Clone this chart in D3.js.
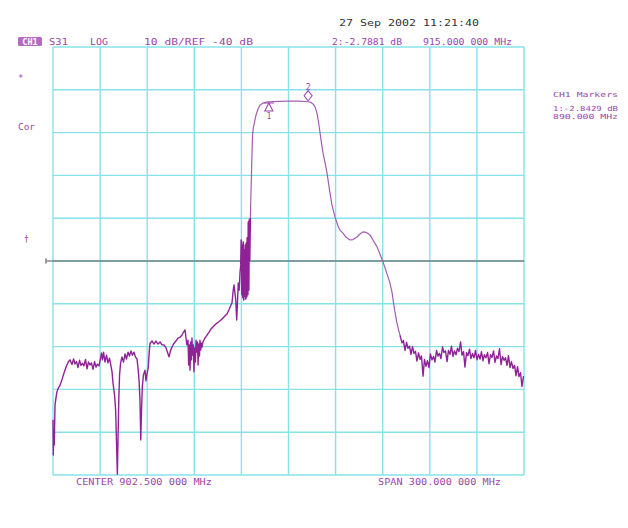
<!DOCTYPE html>
<html>
<head>
<meta charset="utf-8">
<script src="https://cdn.jsdelivr.net/npm/d3@7"></script>
<style>
  body { margin: 0; background: #fff; }
  text { font-family: "DejaVu Sans Mono", monospace; }
</style>
</head>
<body>
<div class="vnaContainer"></div>
<script>
// sweep setup
var startMHz = 752.5, stopMHz = 1052.5;
var topDb = 10, bottomDb = -90, refDb = -40;
var divisions = [0,1,2,3,4,5,6,7,8,9,10];

var lowerStop = [
  [752.5,-77.1],[752.7,-85.3],[752.9,-79.5],[753.3,-83.0],[753.8,-73.6],[754.4,-72.0],[755.0,-70.6],
  [755.9,-69.7],[757.0,-69.0],[758.0,-68.0],[758.9,-66.9],[760.1,-65.5],[761.1,-64.5],[762.2,-63.6],
  [763.3,-63.1],[764.6,-64.2],[765.6,-62.9],[766.5,-64.0],[767.5,-63.5],[768.4,-64.9],[769.4,-63.2],
  [770.3,-64.4],[771.3,-63.9],[772.2,-64.5],[773.2,-63.0],[774.2,-65.2],[775.1,-63.6],[776.1,-64.3],
  [777.0,-63.8],[778.0,-65.3],[779.0,-63.5],[779.9,-64.8],[780.8,-64.1],[781.8,-64.5],[782.8,-62.7],
  [783.4,-61.5],[784.0,-63.1],[784.7,-61.3],[785.6,-63.6],[786.6,-62.0],[787.5,-63.8],[788.5,-62.7],
  [789.4,-64.5],[790.1,-65.9],[790.7,-68.5],[791.7,-71.3],[792.4,-74.8],[792.9,-81.8],[793.5,-89.8],
  [793.9,-81.8],[794.4,-72.5],[794.9,-66.6],[795.5,-64.0],[796.4,-62.4],[797.4,-63.6],[798.4,-61.7],
  [799.3,-62.9],[800.3,-61.3],[801.2,-62.2],[802.2,-61.0],[803.1,-62.0],[804.1,-61.3],[805.0,-62.4],
  [806.0,-62.9],[806.6,-64.8],[807.3,-67.8],[807.9,-72.5],[808.4,-81.8],[808.9,-74.8],[809.4,-69.4],
  [810.1,-66.6],[811.1,-65.5],[811.7,-68.0],[812.4,-66.4],[813.2,-64.8],[813.8,-61.3],[814.3,-59.2],
  [815.6,-58.7],[816.8,-59.4],[818.1,-58.7],[819.4,-59.4],[820.7,-58.9],[821.9,-59.6],[823.2,-59.6],
  [824.5,-60.3],[825.4,-61.3],[826.4,-62.4],[827.3,-61.0],[828.3,-60.1],[829.6,-59.2],[830.8,-58.7],
  [832.1,-58.0],[833.4,-57.8],[834.7,-57.3],[835.6,-56.6],[836.6,-56.1],[837.2,-58.0],[837.8,-59.6],
  [838.5,-58.5],[838.9,-64.3],[839.4,-59.6],[839.8,-65.5],[840.2,-58.9],[840.7,-63.1],[841.0,-58.0],
  [841.5,-62.0],[841.9,-59.6],[842.3,-65.9],[842.7,-60.3],[843.2,-63.6],[843.6,-58.5],[844.0,-61.3],
  [844.5,-58.9],[844.9,-64.3],[845.3,-59.4],[845.8,-62.2],[846.1,-58.5],[846.6,-60.8],[847.0,-59.2],
  [847.4,-60.1],[848.0,-58.9],[849.3,-58.0],[850.6,-57.3],[851.9,-56.6],[853.1,-55.9],[854.4,-55.4],
  [855.7,-54.9],[857.0,-54.5],[858.2,-54.2],[859.5,-53.8],[860.8,-53.3],[862.1,-52.8],[863.3,-52.4],
  [864.6,-51.4],[865.6,-50.5],[866.5,-49.8],[867.3,-46.8],[867.8,-45.6],[868.4,-47.5],[868.9,-49.1],
  [869.5,-53.8],[870.0,-49.8],[870.5,-45.1],[871.1,-46.8],[871.6,-42.8],[872.1,-40.9]
];
var lowerSkirt = [
  [872.1,-40.9],[872.4,-35.1],[872.8,-47.9],[873.1,-36.3],[873.4,-48.6],[873.7,-35.6],[874.0,-49.1],
  [874.3,-37.4],[874.7,-48.2],[875.0,-36.3],[875.3,-48.9],[875.6,-35.8],[875.9,-48.4],[876.2,-34.6],
  [876.6,-47.9],[876.9,-30.9],[877.2,-46.8],[877.5,-30.4],[877.8,-39.8],[878.2,-29.9]
];
var passband = [
  [878.2,-29.9],[878.5,-25.7],[878.9,-19.9],[879.3,-14.1],[879.6,-10.6],[880.1,-8.9],[880.9,-7.5],
  [881.8,-5.9],[883.1,-4.5],[884.3,-3.6],[886.3,-3.1],[888.2,-2.9],
  [890.0,-2.84],[893.0,-2.75],[897.0,-2.7],[903.0,-2.62],[909.0,-2.65],[915.0,-2.79],[916.8,-2.95],
  [918.1,-3.3],[919.4,-4.0],[920.6,-5.4],[921.6,-7.5],[922.6,-10.1],[923.5,-12.4],[924.5,-14.8],
  [925.8,-17.1],[927.0,-19.4],[928.0,-21.8],[928.9,-24.1],[930.2,-26.9],[932.1,-29.7],[934.0,-31.8],
  [935.3,-32.8],[937.2,-33.5],[939.1,-34.4],[941.7,-35.1],[943.6,-35.0],[946.1,-34.4],[948.0,-33.7],
  [949.9,-33.2],[951.9,-33.3],[954.4,-33.9],[956.3,-35.1],[958.9,-36.7],[960.8,-38.4],[962.7,-40.2],
  [964.6,-42.3],[967.1,-45.1],[968.4,-47.2],[969.4,-49.8],[970.3,-51.9],[971.6,-54.5],[972.6,-56.1],
  [973.5,-57.3]
];
var upperStop = [
  [973.5,-57.3],[973.8,-57.8],[974.8,-59.1],[975.7,-58.6],[976.7,-60.9],[977.7,-59.0],[978.6,-60.4],
  [979.6,-59.9],[980.5,-61.8],[981.5,-60.0],[982.4,-61.6],[983.4,-61.1],[984.3,-63.4],[985.3,-61.5],
  [986.3,-63.0],[987.2,-62.2],[988.2,-66.9],[989.1,-63.0],[990.1,-64.6],[991.0,-63.3],[992.0,-64.9],
  [992.9,-61.7],[993.9,-63.1],[994.9,-62.3],[995.8,-63.6],[996.8,-60.9],[997.7,-62.2],[998.7,-61.6],
  [999.6,-62.8],[1000.6,-60.1],[1001.5,-61.4],[1002.5,-61.0],[1003.5,-63.5],[1004.4,-60.9],[1005.4,-61.8],
  [1006.3,-59.9],[1007.3,-62.3],[1008.2,-61.0],[1009.2,-61.9],[1010.1,-60.4],[1011.1,-61.2],[1012.1,-58.9],
  [1013.0,-62.0],[1014.0,-61.2],[1014.9,-64.8],[1015.9,-61.4],[1016.8,-62.1],[1017.8,-60.6],[1018.7,-62.8],
  [1019.7,-61.6],[1020.7,-62.6],[1021.6,-60.9],[1022.6,-63.1],[1023.5,-61.8],[1024.5,-62.9],[1025.4,-61.2],
  [1026.4,-63.3],[1027.3,-61.9],[1028.3,-62.6],[1029.3,-61.4],[1030.2,-64.0],[1031.2,-61.9],[1032.1,-62.5],
  [1033.1,-61.0],[1034.0,-63.7],[1035.0,-62.2],[1035.9,-62.8],[1036.9,-60.5],[1037.9,-64.2],[1038.8,-62.3],
  [1039.8,-63.2],[1040.7,-62.6],[1041.7,-64.4],[1042.6,-62.1],[1043.6,-64.9],[1044.5,-63.5],[1045.5,-65.1],
  [1046.5,-64.4],[1047.4,-66.8],[1048.4,-64.7],[1049.3,-67.0],[1050.3,-66.1],[1051.2,-69.3],[1052.2,-66.9]
];

// markers: id, MHz, dB
var markers = [
  { id: "1", freq: 890.0, db: -2.84 },
  { id: "2", freq: 915.0, db: -2.79 }
];

var header = ["S31", "LOG", "10 dB/REF -40 dB", "2:-2.7881 dB", "915.000 000 MHz"];
var markerBox = ["CH1 Markers", "1:-2.8429 dB", "890.000 MHz"];
var footer = ["CENTER 902.500 000 MHz", "SPAN 300.000 000 MHz"];
var stamp = "27 Sep 2002  11:21:40";

var purple = "#9c45aa";
var noisyPurple = "#8e2296";
var smoothPurple = "#a45cb2";
var gridCol = "#86e3ea";

var canvas = d3.select(".vnaContainer")
  .append("svg")
  .attr("width", 628)
  .attr("height", 528);

var x = d3.scaleLinear().domain([startMHz, stopMHz]).range([53, 524]);
var y = d3.scaleLinear().domain([bottomDb, topDb]).range([475, 47]);
var divMHz = (stopMHz - startMHz) / 10;
var divDb = (topDb - bottomDb) / 10;

// graticule
var grid = canvas.append("g");
grid.selectAll(".vgrid")
  .data(divisions)
  .enter()
    .append("line")
    .attr("x1", function (d) { return x(startMHz + d * divMHz); })
    .attr("x2", function (d) { return x(startMHz + d * divMHz); })
    .attr("y1", y(topDb))
    .attr("y2", y(bottomDb))
    .attr("stroke", gridCol)
    .attr("stroke-width", 1.4);
grid.selectAll(".hgrid")
  .data(divisions)
  .enter()
    .append("line")
    .attr("x1", x(startMHz))
    .attr("x2", x(stopMHz))
    .attr("y1", function (d) { return y(bottomDb + d * divDb); })
    .attr("y2", function (d) { return y(bottomDb + d * divDb); })
    .attr("stroke", gridCol)
    .attr("stroke-width", 1.4);

// reference line
canvas.append("line")
  .attr("x1", x(startMHz) - 6).attr("x2", x(stopMHz))
  .attr("y1", y(refDb)).attr("y2", y(refDb))
  .attr("stroke", "#555").attr("stroke-width", 1.2);
canvas.append("path")
  .attr("d", "M" + (x(startMHz) - 7) + "," + (y(refDb) - 2.5) + "v5")
  .attr("stroke", "#777").attr("stroke-width", 1.5);

// trace, in pieces so the noisy parts read darker like the screen
var line = d3.line()
  .x(function (d) { return x(d[0]); })
  .y(function (d) { return y(d[1]); });
var pieces = [
  { pts: lowerStop, col: noisyPurple, w: 1.4 },
  { pts: lowerSkirt, col: noisyPurple, w: 1.6 },
  { pts: passband, col: smoothPurple, w: 1.2 },
  { pts: upperStop, col: noisyPurple, w: 1.4 }
];
canvas.selectAll(".trace")
  .data(pieces)
  .enter()
    .append("path")
    .attr("d", function (d) { return line(d.pts); })
    .attr("fill", "none")
    .attr("stroke", function (d) { return d.col; })
    .attr("stroke-width", function (d) { return d.w; })
    .attr("stroke-linejoin", "round");

// marker symbols
var mk = canvas.selectAll(".mk")
  .data(markers)
  .enter()
    .append("g")
    .attr("transform", function (d) { return "translate(" + x(d.freq) + "," + y(d.db) + ")"; });
mk.append("path")
  .attr("d", function (d) { return d.id === "1" ? "M0,1L-4,9L4,9Z M-5,1H5" : "M0,-1L-4,-6L0,-11L4,-6Z"; })
  .attr("fill", "none")
  .attr("stroke", purple)
  .attr("stroke-width", 1.1);
mk.append("text")
  .attr("y", function (d) { return d.id === "1" ? 17 : -12; })
  .attr("text-anchor", "middle")
  .attr("font-size", 8)
  .attr("fill", purple)
  .text(function (d) { return d.id; });

// annotations
canvas.append("text")
  .attr("x", 339).attr("y", 26)
  .attr("font-size", 9.5).attr("fill", "#333")
  .attr("textLength", 140).attr("lengthAdjust", "spacingAndGlyphs")
  .text(stamp);

canvas.append("rect")
  .attr("x", 18).attr("y", 37).attr("width", 24).attr("height", 9)
  .attr("rx", 1.5).attr("fill", "#b46ac4");
canvas.append("text")
  .attr("x", 30).attr("y", 44.5).attr("text-anchor", "middle")
  .attr("font-size", 8.5).attr("font-weight", "bold").attr("fill", "#fff")
  .text("CH1");

var headPos = [[49, 19], [90, 18], [144, 109], [332, 70], [423, 89]];
canvas.selectAll(".head")
  .data(header)
  .enter()
    .append("text")
    .attr("x", function (d, i) { return headPos[i][0]; })
    .attr("y", 44.5)
    .attr("font-size", 9)
    .attr("fill", purple)
    .attr("textLength", function (d, i) { return headPos[i][1]; })
    .attr("lengthAdjust", "spacingAndGlyphs")
    .text(function (d) { return d; });

var footPos = [[76, 136], [378, 123]];
canvas.selectAll(".foot")
  .data(footer)
  .enter()
    .append("text")
    .attr("x", function (d, i) { return footPos[i][0]; })
    .attr("y", 485)
    .attr("font-size", 9)
    .attr("fill", purple)
    .attr("textLength", function (d, i) { return footPos[i][1]; })
    .attr("lengthAdjust", "spacingAndGlyphs")
    .text(function (d) { return d; });

var boxY = [97, 111, 118.5];
canvas.selectAll(".mbox")
  .data(markerBox)
  .enter()
    .append("text")
    .attr("x", 618)
    .attr("y", function (d, i) { return boxY[i]; })
    .attr("text-anchor", "end")
    .attr("font-size", 7)
    .attr("fill", purple)
    .attr("textLength", 65)
    .attr("lengthAdjust", "spacingAndGlyphs")
    .text(function (d) { return d; });

canvas.append("text").attr("x", 18).attr("y", 81).attr("font-size", 9).attr("fill", purple).text("*");
canvas.append("text").attr("x", 18).attr("y", 130).attr("font-size", 8).attr("fill", purple)
  .attr("textLength", 17).attr("lengthAdjust", "spacingAndGlyphs").text("Cor");
canvas.append("text").attr("x", 24).attr("y", 242).attr("font-size", 8).attr("fill", purple).text("†");
</script>
</body>
</html>
